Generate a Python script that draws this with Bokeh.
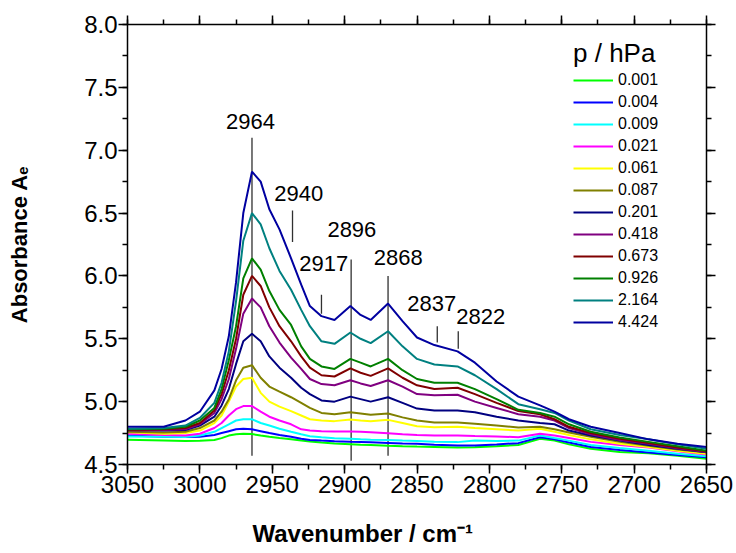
from bokeh.plotting import figure
from bokeh.models import (Range1d, LinearAxis, SingleIntervalTicker,
                          NumeralTickFormatter, CustomJSTickFormatter, Title)
from bokeh.core.properties import value
from bokeh.embed import file_html
from bokeh.resources import INLINE

# ---------------- data ----------------
wavenumber = [3050, 3025, 3010, 3000, 2990, 2985, 2980, 2975, 2970, 2964, 2958, 2952,
              2945, 2937, 2930, 2924, 2916, 2907, 2896, 2889, 2882, 2870, 2860, 2850,
              2838, 2822, 2810, 2795, 2780, 2765, 2755, 2745, 2730, 2710, 2690, 2670, 2650]

pressures = ["0.001", "0.004", "0.009", "0.021", "0.061", "0.087",
             "0.201", "0.418", "0.673", "0.926", "2.164", "4.424"]

colors = ["#00ff00", "#0000ff", "#00ffff", "#ff00ff", "#ffff00", "#808000",
          "#000080", "#800080", "#800000", "#008000", "#008080", "#0000a0"]

a_0001 = [4.696, 4.69, 4.686, 4.688, 4.695, 4.71, 4.73, 4.74, 4.745, 4.742, 4.73, 4.72,
          4.71, 4.70, 4.69, 4.683, 4.675, 4.668, 4.662, 4.658, 4.655, 4.65, 4.646, 4.643,
          4.64, 4.635, 4.638, 4.645, 4.655, 4.704, 4.69, 4.66, 4.625, 4.60, 4.59, 4.57, 4.545]
a_0004 = [4.731, 4.72, 4.718, 4.72, 4.735, 4.75, 4.765, 4.78, 4.785, 4.78, 4.765, 4.75,
          4.735, 4.72, 4.705, 4.695, 4.69, 4.685, 4.68, 4.678, 4.676, 4.672, 4.668, 4.665,
          4.658, 4.651, 4.652, 4.66, 4.67, 4.717, 4.70, 4.675, 4.64, 4.615, 4.595, 4.575, 4.558]
a_0009 = [4.723, 4.72, 4.718, 4.73, 4.76, 4.79, 4.82, 4.85, 4.86, 4.86, 4.83, 4.81,
          4.785, 4.76, 4.74, 4.725, 4.716, 4.708, 4.705, 4.70, 4.697, 4.695, 4.69, 4.687,
          4.681, 4.678, 4.69, 4.686, 4.69, 4.731, 4.71, 4.69, 4.655, 4.632, 4.61, 4.585, 4.566]
a_0021 = [4.744, 4.735, 4.73, 4.745, 4.79, 4.83, 4.89, 4.94, 4.965, 4.965, 4.92, 4.88,
          4.85, 4.82, 4.78, 4.77, 4.765, 4.763, 4.763, 4.76, 4.757, 4.748, 4.74, 4.735,
          4.731, 4.731, 4.727, 4.723, 4.717, 4.744, 4.73, 4.71, 4.68, 4.655, 4.635, 4.605, 4.58]
a_0061 = [4.757, 4.745, 4.75, 4.77, 4.83, 4.89, 5.00, 5.12, 5.18, 5.19, 5.07, 5.00,
          4.96, 4.925, 4.89, 4.86, 4.85, 4.845, 4.858, 4.85, 4.845, 4.855, 4.83, 4.805,
          4.797, 4.80, 4.79, 4.78, 4.77, 4.784, 4.76, 4.735, 4.70, 4.665, 4.64, 4.61, 4.585]
a_0087 = [4.76, 4.755, 4.76, 4.79, 4.85, 4.92, 5.02, 5.17, 5.27, 5.29, 5.19, 5.12,
          5.08, 5.035, 4.99, 4.95, 4.91, 4.90, 4.915, 4.905, 4.895, 4.905, 4.875, 4.85,
          4.835, 4.835, 4.825, 4.81, 4.795, 4.80, 4.78, 4.755, 4.72, 4.68, 4.65, 4.62, 4.598]
a_0201 = [4.775, 4.77, 4.775, 4.81, 4.88, 4.97, 5.10, 5.30, 5.48, 5.54, 5.48, 5.36,
          5.27, 5.19, 5.11, 5.06, 5.01, 5.00, 5.04, 5.02, 5.00, 5.035, 4.99, 4.945,
          4.93, 4.93, 4.915, 4.88, 4.85, 4.83, 4.82, 4.77, 4.73, 4.69, 4.655, 4.625, 4.598]
a_0418 = [4.77, 4.775, 4.78, 4.82, 4.91, 5.02, 5.18, 5.42, 5.70, 5.82, 5.75, 5.60,
          5.47, 5.35, 5.26, 5.18, 5.14, 5.13, 5.17, 5.145, 5.125, 5.17, 5.12, 5.06,
          5.05, 5.055, 5.00, 4.95, 4.90, 4.88, 4.85, 4.79, 4.74, 4.695, 4.665, 4.63, 4.60]
a_0673 = [4.775, 4.78, 4.79, 4.83, 4.93, 5.06, 5.25, 5.50, 5.85, 6.00, 5.92, 5.75,
          5.60, 5.48, 5.36, 5.27, 5.21, 5.20, 5.265, 5.23, 5.205, 5.265, 5.19, 5.13,
          5.10, 5.11, 5.06, 4.99, 4.925, 4.90, 4.86, 4.80, 4.75, 4.705, 4.67, 4.635, 4.605]
a_0926 = [4.78, 4.785, 4.80, 4.85, 4.95, 5.10, 5.33, 5.60, 5.98, 6.14, 6.05, 5.88,
          5.73, 5.61, 5.44, 5.34, 5.28, 5.26, 5.34, 5.31, 5.28, 5.34, 5.25, 5.18,
          5.15, 5.15, 5.10, 5.02, 4.935, 4.91, 4.88, 4.82, 4.76, 4.715, 4.68, 4.645, 4.61]
a_2164 = [4.785, 4.79, 4.81, 4.87, 4.99, 5.15, 5.40, 5.80, 6.28, 6.50, 6.41, 6.22,
          6.04, 5.89, 5.73, 5.60, 5.48, 5.46, 5.55, 5.50, 5.465, 5.56, 5.44, 5.34,
          5.295, 5.28, 5.21, 5.10, 4.98, 4.94, 4.91, 4.85, 4.78, 4.735, 4.70, 4.66, 4.625]
a_4424 = [4.80, 4.80, 4.85, 4.92, 5.09, 5.26, 5.52, 5.95, 6.50, 6.83, 6.75, 6.53,
          6.37, 6.14, 5.93, 5.76, 5.68, 5.65, 5.76, 5.69, 5.65, 5.78, 5.64, 5.51,
          5.45, 5.40, 5.31, 5.16, 5.04, 4.97, 4.92, 4.86, 4.80, 4.75, 4.70, 4.665, 4.64]

series = [a_0001, a_0004, a_0009, a_0021, a_0061, a_0087,
          a_0201, a_0418, a_0673, a_0926, a_2164, a_4424]

# peak annotations
peak_labels = ["2964", "2940", "2917", "2896", "2868", "2837", "2822"]
label_x = [2965, 2931.7, 2914.4, 2895, 2863, 2839.8, 2805.9]
label_y = [7.229, 6.653, 6.097, 6.372, 6.144, 5.778, 5.677]
mark_x = [2964, 2936, 2916, 2895.5, 2870, 2836, 2821.5]
mark_y0 = [4.57, 6.27, 5.70, 4.53, 4.57, 5.47, 5.42]
mark_y1 = [7.10, 6.52, 5.85, 6.13, 6.00, 5.60, 5.56]

x_title = "Wavenumber / cm\u207b\u00b9"
y_title = "Absorbance A\u2091"

FONT = "Liberation Sans"

# ---------------- figure ----------------
p = figure(frame_width=579, frame_height=440,
           min_border_left=127, min_border_right=30,
           min_border_top=24, min_border_bottom=89,
           x_range=Range1d(3050, 2650), y_range=Range1d(4.5, 8.0),
           output_backend="svg", toolbar_location=None,
           x_axis_location=None, y_axis_location=None)
p.outline_line_color = None
p.xgrid.visible = False
p.ygrid.visible = False
p.background_fill_color = "white"
p.border_fill_color = "white"

blank = CustomJSTickFormatter(code="return ''")


def style_axis(ax, labels=True):
    ax.axis_line_color = "black"
    ax.axis_line_width = 1.5
    ax.major_tick_line_color = "black"
    ax.major_tick_line_width = 1.5
    ax.minor_tick_line_color = "black"
    ax.minor_tick_line_width = 1.5
    ax.major_tick_out = 9
    ax.major_tick_in = 0
    ax.minor_tick_out = 5
    ax.minor_tick_in = 0
    ax.major_label_text_font = FONT
    ax.major_label_text_color = "black"
    ax.major_label_text_font_size = "24px" if labels else "1px"
    ax.axis_label_text_font = FONT
    ax.axis_label_text_font_style = "bold"
    ax.axis_label_text_color = "black"


xb = LinearAxis(ticker=SingleIntervalTicker(interval=50, num_minor_ticks=2),
                formatter=NumeralTickFormatter(format="0"))
style_axis(xb)
xb.major_label_standoff = 2
p.add_layout(xb, "below")

# x title, placed as a left-aligned title below the axis
p.add_layout(Title(text=x_title, align="left", offset=125, standoff=44,
                   text_font=FONT, text_font_size="24px",
                   text_font_style="bold", text_color="black"), "below")

xt = LinearAxis(ticker=SingleIntervalTicker(interval=50, num_minor_ticks=2),
                formatter=blank)
style_axis(xt, labels=False)
xt.major_label_standoff = 0
p.add_layout(xt, "above")

yl = LinearAxis(ticker=SingleIntervalTicker(interval=0.5, num_minor_ticks=2),
                formatter=NumeralTickFormatter(format="0.0"),
                axis_label=y_title)
style_axis(yl)
yl.major_label_standoff = 1
yl.axis_label_text_font_size = "22px"
yl.axis_label_standoff = 49
p.add_layout(yl, "left")

yr = LinearAxis(ticker=SingleIntervalTicker(interval=0.5, num_minor_ticks=2),
                formatter=blank)
style_axis(yr, labels=False)
yr.major_label_standoff = 0
p.add_layout(yr, "right")

# annotation lines (under the spectra)
p.segment(x0=mark_x, y0=mark_y0, x1=mark_x, y1=mark_y1,
          line_color="#303030", line_width=1.3)

for ys, col, lab in zip(series, colors, pressures):
    p.line(wavenumber, ys, line_color=col, line_width=2, legend_label=lab)

p.text(x=label_x, y=label_y, text=peak_labels, text_font=value(FONT),
       text_font_size="22px", text_align="center", text_baseline="middle",
       text_color="black")

# legend
lg = p.legend[0]
lg.title = "p / hPa"
lg.title_text_font = FONT
lg.title_text_font_size = "26px"
lg.title_text_font_style = "normal"
lg.title_text_color = "black"
lg.title_standoff = 1
lg.label_text_font = FONT
lg.label_text_font_size = "16px"
lg.label_text_color = "black"
lg.glyph_width = 40
lg.glyph_height = 20
lg.label_height = 20
lg.label_width = 74
lg.label_standoff = 5
lg.spacing = 2
lg.padding = 0
lg.margin = 14
lg.location = "top_right"
lg.border_line_color = None
lg.background_fill_alpha = 0

open("out.html", "w").write(file_html(p, INLINE))
